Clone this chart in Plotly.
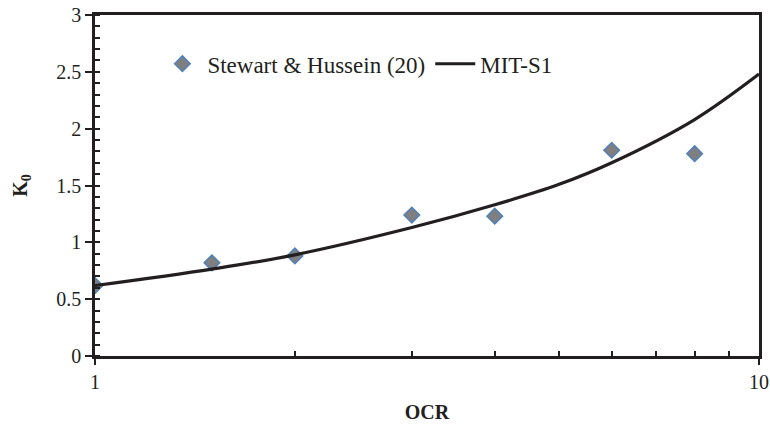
import plotly.graph_objects as go

# Data
ocr_data = [1, 1.5, 2, 3, 4, 6, 8]
k0_data = [0.62, 0.82, 0.88, 1.24, 1.23, 1.81, 1.78]

ocr_model = [1, 1.5, 2, 3, 4, 5, 6, 8, 10]
k0_model = [0.62, 0.765, 0.89, 1.13, 1.33, 1.51, 1.70, 2.08, 2.48]

y_ticks = [0, 0.5, 1, 1.5, 2, 2.5, 3]
y_ticktext = ["0", "0.5", "1", "1.5", "2", "2.5", "3"]
x_ticks = [1, 10]
x_ticktext = ["1", "10"]

series_names = ["Stewart & Hussein (20)", "MIT-S1"]
x_title = "<b>OCR</b>"
y_title = "<b>K<sub>0</sub></b>"

FONT = "Liberation Serif, Times New Roman, serif"
INK = "#231f20"

fig = go.Figure()
fig.add_trace(go.Scatter(
    x=ocr_data, y=k0_data, mode="markers", name=series_names[0],
    marker=dict(symbol="diamond", size=12, color="#7f7f7f",
                line=dict(color="#4f81bd", width=1.5)),
))
fig.add_trace(go.Scatter(
    x=ocr_model, y=k0_model, mode="lines", name=series_names[1],
    line=dict(color=INK, width=3.2, shape="spline", smoothing=1.0),
))

fig.update_layout(
    width=770, height=425,
    margin=dict(l=95, r=11, t=15, b=69),
    paper_bgcolor="white", plot_bgcolor="white",
    font=dict(family=FONT, size=20, color=INK),
    showlegend=True,
    legend=dict(orientation="h", x=0.094, y=0.92, xanchor="left", yanchor="top",
                bgcolor="rgba(0,0,0,0)", font=dict(family=FONT, size=23, color=INK),
                itemwidth=40, traceorder="normal"),
)
fig.update_xaxes(
    type="log", range=[0, 1], automargin=False,
    tickmode="array", tickvals=x_ticks, ticktext=x_ticktext,
    ticks="outside", ticklen=6, tickwidth=1.5, tickcolor=INK,
    showline=True, linewidth=2.5, linecolor=INK, mirror=True,
    showgrid=False, zeroline=False,
    minor=dict(tickvals=[2, 3, 4, 5, 6, 7, 8, 9], ticks="inside", ticklen=5,
               tickwidth=1.5, tickcolor=INK, showgrid=False),
    title=dict(text=x_title, font=dict(family=FONT, size=20, color=INK), standoff=14),
    tickfont=dict(family=FONT, size=20, color=INK),
)
fig.update_yaxes(
    range=[0, 3], automargin=False,
    tickmode="array", tickvals=y_ticks, ticktext=y_ticktext,
    ticks="outside", ticklen=7, tickwidth=1.5, tickcolor=INK,
    showline=True, linewidth=2.5, linecolor=INK, mirror=True,
    showgrid=False, zeroline=False,
    minor=dict(dtick=0.1, tick0=0, ticks="inside", ticklen=5, tickwidth=1.5,
               tickcolor=INK, showgrid=False),
    title=dict(text=y_title, font=dict(family=FONT, size=20, color=INK), standoff=24),
    tickfont=dict(family=FONT, size=20, color=INK),
)

fig.write_html("out.html")
